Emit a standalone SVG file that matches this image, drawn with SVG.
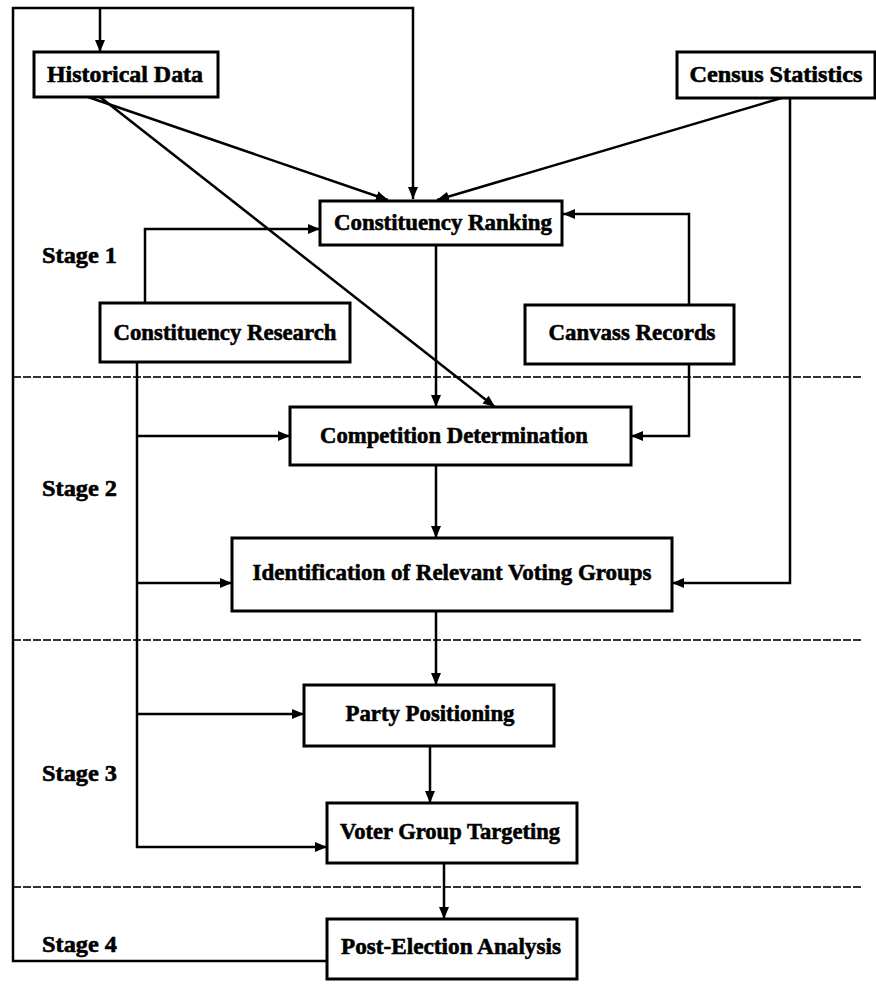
<svg xmlns="http://www.w3.org/2000/svg" width="876" height="988" viewBox="0 0 876 988">
<style>
.box{fill:#fff;stroke:#000;stroke-width:3}
.t{font-family:"Liberation Serif","Times New Roman",serif;font-weight:bold;font-size:24px;fill:#000;stroke:#000;stroke-width:0.6;text-anchor:middle}
.s{font-family:"Liberation Serif","Times New Roman",serif;font-weight:bold;font-size:24px;fill:#000;stroke:#000;stroke-width:0.6}
.c{fill:none;stroke:#000;stroke-width:2.5}
.d{fill:none;stroke:#333;stroke-width:2;stroke-dasharray:8 2}
</style>
<defs>
<marker id="a" markerUnits="userSpaceOnUse" markerWidth="12" markerHeight="12" viewBox="0 0 12 12" refX="12" refY="6" orient="auto">
<path d="M0,1 L12,6 L0,11 z" fill="#000"/>
</marker>
</defs>
<g id="stage-lines">
<line class="d" x1="13" y1="377" x2="862" y2="377"/>
<line class="d" x1="13" y1="640" x2="862" y2="640"/>
<line class="d" x1="13" y1="887" x2="862" y2="887"/>
</g>
<g id="connectors">
<path class="c" d="M327,961 H13 V8 H413 V199" marker-end="url(#a)"/>
<path class="c" d="M100,8 V52" marker-end="url(#a)"/>
<path class="c" d="M88,97 L388,200" marker-end="url(#a)"/>
<path class="c" d="M100,97 L495,407" marker-end="url(#a)"/>
<path class="c" d="M785,97 L437,200" marker-end="url(#a)"/>
<path class="c" d="M790,97 V583 H672" marker-end="url(#a)"/>
<path class="c" d="M145,303 V229 H320" marker-end="url(#a)"/>
<path class="c" d="M689,305 V214 H563" marker-end="url(#a)"/>
<path class="c" d="M689,364 V436 H631" marker-end="url(#a)"/>
<path class="c" d="M436,245 V407" marker-end="url(#a)"/>
<path class="c" d="M137,362 V847 H327" marker-end="url(#a)"/>
<path class="c" d="M137,436 H290" marker-end="url(#a)"/>
<path class="c" d="M137,583 H232" marker-end="url(#a)"/>
<path class="c" d="M137,714 H304" marker-end="url(#a)"/>
<path class="c" d="M436,465 V538" marker-end="url(#a)"/>
<path class="c" d="M436,611 V685" marker-end="url(#a)"/>
<path class="c" d="M430,746 V803" marker-end="url(#a)"/>
<path class="c" d="M444,863 V919" marker-end="url(#a)"/>
</g>
<g id="labels">
<text class="s" x="42" y="263" textLength="75" lengthAdjust="spacingAndGlyphs">Stage 1</text>
<text class="s" x="42" y="496" textLength="75" lengthAdjust="spacingAndGlyphs">Stage 2</text>
<text class="s" x="42" y="781" textLength="75" lengthAdjust="spacingAndGlyphs">Stage 3</text>
<text class="s" x="42" y="952" textLength="75" lengthAdjust="spacingAndGlyphs">Stage 4</text>
</g>
<g id="historical-data">
<rect class="box" x="34" y="52" width="184" height="45"/>
<text class="t" x="125" y="82" textLength="156" lengthAdjust="spacingAndGlyphs">Historical Data</text>
</g>
<g id="census-statistics">
<rect class="box" x="677" y="52" width="198" height="46"/>
<text class="t" x="776" y="82" textLength="173" lengthAdjust="spacingAndGlyphs">Census Statistics</text>
</g>
<g id="constituency-ranking">
<rect class="box" x="320" y="201" width="242" height="44"/>
<text class="t" x="443" y="230" textLength="218" lengthAdjust="spacingAndGlyphs">Constituency Ranking</text>
</g>
<g id="constituency-research">
<rect class="box" x="100" y="303" width="250" height="59"/>
<text class="t" x="225" y="340" textLength="223" lengthAdjust="spacingAndGlyphs">Constituency Research</text>
</g>
<g id="canvass-records">
<rect class="box" x="525" y="305" width="209" height="59"/>
<text class="t" x="632" y="340" textLength="167" lengthAdjust="spacingAndGlyphs">Canvass Records</text>
</g>
<g id="competition-determination">
<rect class="box" x="290" y="407" width="341" height="58"/>
<text class="t" x="454" y="443" textLength="268" lengthAdjust="spacingAndGlyphs">Competition Determination</text>
</g>
<g id="identification">
<rect class="box" x="232" y="538" width="440" height="73"/>
<text class="t" x="452" y="580" textLength="399" lengthAdjust="spacingAndGlyphs">Identification of Relevant Voting Groups</text>
</g>
<g id="party-positioning">
<rect class="box" x="304" y="685" width="250" height="61"/>
<text class="t" x="430" y="721" textLength="169" lengthAdjust="spacingAndGlyphs">Party Positioning</text>
</g>
<g id="voter-group-targeting">
<rect class="box" x="327" y="803" width="250" height="60"/>
<text class="t" x="450" y="839" textLength="220" lengthAdjust="spacingAndGlyphs">Voter Group Targeting</text>
</g>
<g id="post-election-analysis">
<rect class="box" x="327" y="919" width="250" height="60"/>
<text class="t" x="451" y="954" textLength="220" lengthAdjust="spacingAndGlyphs">Post-Election Analysis</text>
</g>
</svg>
